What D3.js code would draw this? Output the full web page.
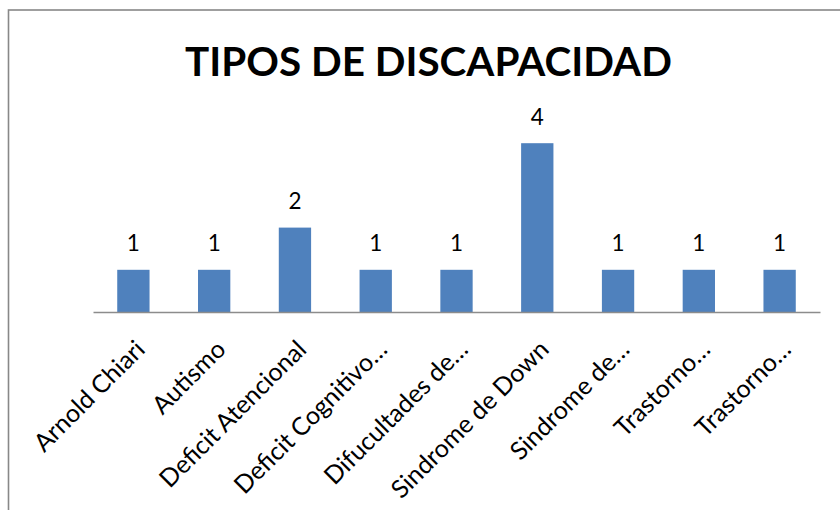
<!DOCTYPE html>
<html><head><meta charset="utf-8">
<script src="https://cdn.jsdelivr.net/npm/d3@7"></script>
<style>html,body{margin:0;padding:0;background:#fff;}svg{display:block;}</style>
</head><body>
<script>
const categories = ["Arnold Chiari","Autismo","Deficit Atencional","Deficit Cognitivo…","Difucultades de…","Sindrome de Down","Sindrome de…","Trastorno…","Trastorno…"];
const values = [1,1,2,1,1,4,1,1,1];
const title = "TIPOS DE DISCAPACIDAD";

const W = 840, H = 510;
const svg = d3.select("body").append("svg").attr("width", W).attr("height", H);
const font = "Lato, 'Open Sans', sans-serif";

// chart border
svg.append("rect").attr("x", 8.5).attr("y", 10).attr("width", 900).attr("height", 600)
  .attr("fill", "none").attr("stroke", "#888").attr("stroke-width", 1.6);

const x = d3.scaleBand().domain(d3.range(categories.length)).range([93, 820]).paddingInner(0.6).paddingOuter(0.3);
const y = d3.scaleLinear().domain([0, 5]).range([312, 101]);

// title
const t = svg.append("text").attr("x", 428.5).attr("y", 76).attr("text-anchor", "middle")
  .attr("font-family", font).attr("font-weight", "bold").attr("font-size", 43).attr("fill", "#000").text(title);
const tw = t.node().getComputedTextLength();
t.attr("font-size", 43 * 487 / tw);

// bars
svg.selectAll("rect.bar").data(values).join("rect").attr("class", "bar")
  .attr("x", (d, i) => x(i)).attr("width", x.bandwidth())
  .attr("y", d => y(d)).attr("height", d => y(0) - y(d)).attr("fill", "#4F81BD");

// value labels
svg.selectAll("text.val").data(values).join("text").attr("class", "val")
  .attr("x", (d, i) => x(i) + x.bandwidth() / 2).attr("y", d => y(d) - 18.5)
  .attr("text-anchor", "middle").attr("font-family", font).attr("font-size", 22.5).attr("fill", "#000")
  .text(d => d);

// x axis
const ax = svg.append("g").attr("transform", `translate(0,${y(0)})`)
  .call(d3.axisBottom(x).tickSize(0).tickFormat(i => categories[i]));
ax.select(".domain").attr("stroke", "#8c8c8c").attr("stroke-width", 1.6);
ax.selectAll(".tick text")
  .attr("font-family", font).attr("font-size", 25).attr("fill", "#000")
  .attr("text-anchor", "end").attr("dy", null)
  .attr("transform", "translate(13,39) rotate(-45)").attr("y", 0).attr("x", 0);
</script>
</body></html>
